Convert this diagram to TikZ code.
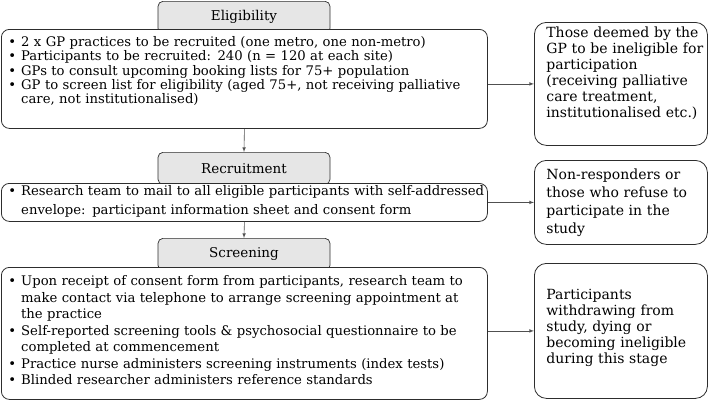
\documentclass[tikz,border=0pt]{standalone}
\usepackage{fontspec}
\setmainfont{DejaVu Serif}
\newfontfamily\headfont{DejaVu Serif}
\usetikzlibrary{arrows}
\usetikzlibrary{shapes}
\setlength{\parindent}{0pt}
\definecolor{boxline}{RGB}{45,45,45}
\definecolor{headfill}{RGB}{230,230,230}
\definecolor{arrowline}{RGB}{80,80,80}

\begin{document}
\begin{tikzpicture}[x = 1pt, y = -1pt]
\tikzstyle{HeadStyle}=[draw = boxline, line width = 0.7pt, fill = headfill,
rounded corners = 5pt, anchor = north, minimum width = 172pt, minimum height = 32pt,
inner sep = 0pt, font = \headfont\fontsize{13.5}{15}\selectfont]
\tikzstyle{StageStyle}=[draw = boxline, line width = 0.8pt, fill = white,
rounded corners = 8pt, anchor = north west, inner xsep = 7pt, inner ysep = 0pt,
text width = 472pt, align = left, font = \rmfamily\fontsize{13.2}{14.3}\selectfont]
\tikzstyle{ExitStyle}=[draw = boxline, line width = 0.8pt, fill = white,
rounded corners = 12pt, anchor = north west, inner xsep = 12pt, inner ysep = 0pt,
text width = 149pt, align = left, font = \rmfamily\fontsize{14}{16}\selectfont]
\tikzstyle{FlowStyle}=[draw = arrowline, line width = 0.6pt, ->, >=latex]
\useasboundingbox (0,0) rectangle (708,402);
\node[HeadStyle] (elighead) at (244,1) {Eligibility};
\node[HeadStyle] (rechead) at (244,152) {Recruitment};
\node[HeadStyle] (scrhead) at (244,238) {Screening};
\node[StageStyle, text height = 17pt, text depth = 82pt] (elig) at (1,29)
{\begin{tabular}[t]{@{}l@{\hspace{5pt}}l@{}}
\textbullet & 2 x GP practices to be recruited (one metro, one non-metro)\\
\textbullet & Participants to be recruited: 240 (n = 120 at each site)\\
\textbullet & GPs to consult upcoming booking lists for 75+ population\\
\textbullet & GP to screen list for eligibility (aged 75+, not receiving palliative\\
 & care, not institutionalised)
\end{tabular}};
\node[StageStyle, text height = 12.5pt, text depth = 25.5pt,
font = \rmfamily\fontsize{13.2}{18.5}\selectfont] (recr) at (1,183)
{\begin{tabular}[t]{@{}l@{\hspace{5pt}}l@{}}
\textbullet & Research team to mail to all eligible participants with self-addressed\\
 & envelope: participant information sheet and consent form
\end{tabular}};
\node[StageStyle, text height = 18.5pt, text depth = 113.5pt,
font = \rmfamily\fontsize{13.2}{16.5}\selectfont] (scr) at (1,267)
{\begin{tabular}[t]{@{}l@{\hspace{5pt}}l@{}}
\textbullet & Upon receipt of consent form from participants, research team to\\
 & make contact via telephone to arrange screening appointment at\\
 & the practice\\
\textbullet & Self-reported screening tools \& psychosocial questionnaire to be\\
 & completed at commencement\\
\textbullet & Practice nurse administers screening instruments (index tests)\\
\textbullet & Blinded researcher administers reference standards
\end{tabular}};
\node[ExitStyle, text height = 14.6pt, text depth = 108.4pt] (exclelig) at (534,22)
{\begin{tabular}[t]{@{}l@{}}
Those deemed by the\\ GP to be ineligible for\\ participation\\
(receiving palliative\\ care treatment,\\ institutionalised etc.)
\end{tabular}};
\node[ExitStyle, text height = 18.6pt, text depth = 65.4pt,
font = \rmfamily\fontsize{14}{18.3}\selectfont] (exclrecr) at (534,160)
{\begin{tabular}[t]{@{}l@{}}
Non-responders or\\ those who refuse to\\ participate in the\\ study
\end{tabular}};
\node[ExitStyle, text height = 35.6pt, text depth = 99.4pt] (exclscr) at (534,263)
{\begin{tabular}[t]{@{}l@{}}
Participants\\ withdrawing from\\ study, dying or\\
becoming ineligible\\ during this stage
\end{tabular}};
\draw[FlowStyle] (elig.south) -- (rechead.north);
\draw[FlowStyle] (recr.south) -- (scrhead.north);
\draw[FlowStyle] (exclelig.west -| elig.east) -- (exclelig.west);
\draw[FlowStyle] (exclrecr.west -| recr.east) -- (exclrecr.west);
\draw[FlowStyle] (exclscr.west -| scr.east) -- (exclscr.west);
\end{tikzpicture}
\end{document}
